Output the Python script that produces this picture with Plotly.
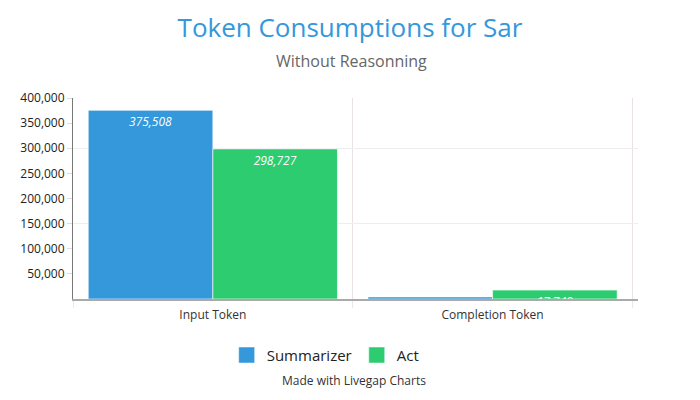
import plotly.graph_objects as go

categories = ["Input Token", "Completion Token"]
summarizer = [375508, 4200]
act = [298727, 17740]
series_names = ["Summarizer", "Act"]
colors = ["#3498db", "#2ecc71"]
y_ticks = [50000, 100000, 150000, 200000, 250000, 300000, 350000, 400000]

fig = go.Figure()
for name, vals, col in zip(series_names, [summarizer, act], colors):
    fig.add_trace(go.Bar(
        x=categories, y=vals, name=name, showlegend=False,
        marker=dict(color=col, line=dict(color="rgba(255,255,255,0.6)", width=1)),
        text=[f"{v:,}" if v > 10000 else "" for v in vals],
        textposition="inside", insidetextanchor="end", constraintext="none",
        textfont=dict(color="white", size=12, style="italic", family="Open Sans"),
        hoverinfo="x+y+name",
    ))

# legend-only entries with larger square swatches
for name, col in zip(series_names, colors):
    fig.add_trace(go.Scatter(
        x=[None], y=[None], name=name, mode="markers",
        marker=dict(symbol="square", size=16, color=col,
                    line=dict(color="rgba(255,255,255,0.5)", width=1)),
    ))

# helper trace for sparse gridlines on an overlaying axis
fig.add_trace(go.Scatter(x=categories, y=[0, 0], yaxis="y2", mode="none",
                         showlegend=False, hoverinfo="skip"))

fig.update_layout(
    width=692, height=392,
    margin=dict(l=63, r=62, t=90, b=101),
    paper_bgcolor="white", plot_bgcolor="white",
    font=dict(family="Open Sans", color="#333", size=12),
    barmode="group", bargap=0.109, bargroupgap=0,
    title=dict(text="Token Consumptions for Sar", x=342 / 692, xanchor="center",
               y=1 - 20 / 392, yanchor="middle",
               font=dict(size=26, color="#3498db", family="Open Sans")),
    annotations=[
        dict(text="Without Reasonning", xref="paper", yref="paper",
             x=(342 - 63) / 567, y=1.0,
             yshift=37, showarrow=False, xanchor="center", yanchor="middle",
             font=dict(size=16, color="#666")),
        dict(text="Made with Livegap Charts", xref="paper", yref="paper",
             x=(345 - 63) / 567, y=0,
             yshift=-81, showarrow=False, xanchor="center", yanchor="middle",
             font=dict(size=12, color="#333")),
    ],
    legend=dict(orientation="h", x=0.272, xanchor="left", y=-0.28, yanchor="middle",
                yref="paper", font=dict(size=15, color="#222"),
                traceorder="normal", itemwidth=30, itemsizing="trace"),
    xaxis=dict(type="category", range=[-0.5, 1.52], showline=True, linecolor="#aaa",
               linewidth=2, tickson="boundaries", ticks="outside", ticklen=7,
               tickcolor="#e8e8e8", showgrid=True, gridcolor="#e8e2e6",
               ticklabelstandoff=4,
               tickfont=dict(size=12, color="#333")),
    yaxis=dict(range=[0, 400000], tickvals=y_ticks, tickformat=",", showgrid=False,
               showline=True, linecolor="#777", linewidth=1, ticks="outside",
               ticklen=5, tickcolor="#ddd", zeroline=False,
               tickfont=dict(size=12, color="#222")),
    yaxis2=dict(range=[0, 400000], dtick=150000, overlaying="y", showgrid=True,
                gridcolor="#eeeeee", showticklabels=False, zeroline=False,
                showline=False),
)

fig.write_html("out.html")
